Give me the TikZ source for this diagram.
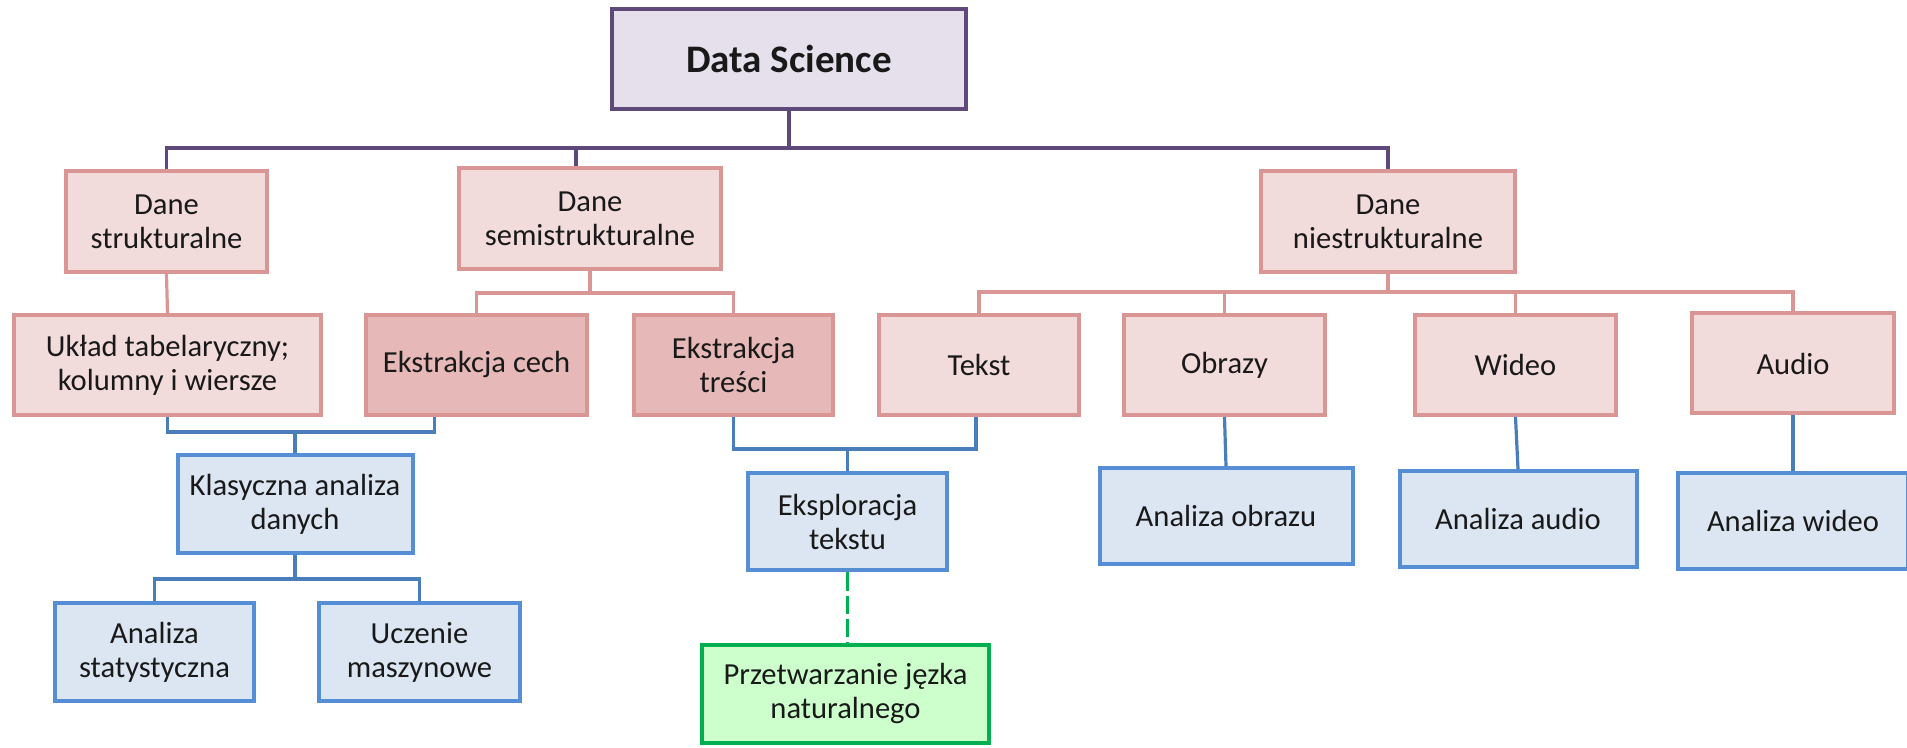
\documentclass[tikz,border=0pt]{standalone}
\usepackage{fontspec}
\setmainfont{Carlito}
\definecolor{purpleD}{HTML}{5F497A}
\definecolor{lav}{HTML}{E5E0EC}
\definecolor{pinkD}{HTML}{D99694}
\definecolor{pinkL}{HTML}{F2DCDB}
\definecolor{pinkM}{HTML}{E6B9B8}
\definecolor{blueB}{HTML}{558ED5}
\definecolor{blueC}{HTML}{4A7EBB}
\definecolor{blueL}{HTML}{DCE6F2}
\definecolor{greenD}{HTML}{00B050}
\definecolor{greenL}{HTML}{CCFFCC}
\tikzset{
  base/.style={rectangle, align=center, inner sep=0pt, line width=2pt,
    font=\fontsize{15.3}{17}\selectfont, text=black!90},
  dsbox/.style={base, draw=purpleD, fill=lav, font=\bfseries\fontsize{19.5}{22}\selectfont},
  pinkbox/.style={base, draw=pinkD, fill=pinkL},
  pinkdark/.style={base, draw=pinkD, fill=pinkM},
  bluebox/.style={base, draw=blueB, fill=blueL},
  greenbox/.style={base, draw=greenD, fill=greenL},
  pur/.style={draw=purpleD, line width=1.6pt},
  pnk/.style={draw=pinkD, line width=1.6pt},
  blu/.style={draw=blueC, line width=1.6pt},
  grn/.style={draw=greenD, line width=1.8pt, dash pattern=on 9pt off 2.5pt},
}
\begin{document}
\begin{tikzpicture}[x=0.5pt, y=-0.5pt]
\path[use as bounding box] (0,0) rectangle (1907,748);
% top
\node[dsbox, minimum width=177pt, minimum height=50pt] (ds) at (789,59) {Data Science};
% row 1
\node[pinkbox, minimum width=100.5pt, minimum height=50.5pt] (dst) at (166.5,221.5) {Dane\\strukturalne};
\node[pinkbox, minimum width=131pt, minimum height=50.5pt] (dss) at (590,218.5) {Dane\\semistrukturalne};
\node[pinkbox, minimum width=127pt, minimum height=50.5pt] (dns) at (1388,221.5) {Dane\\niestrukturalne};
% row 2
\node[pinkbox, minimum width=153.5pt, minimum height=50pt] (uklad) at (167.5,365) {Układ tabelaryczny;\\kolumny i wiersze};
\node[pinkdark, minimum width=110.5pt, minimum height=50pt] (ecech) at (476.5,365) {Ekstrakcja cech};
\node[pinkdark, minimum width=99.5pt, minimum height=50pt] (etresc) at (733.5,365) {Ekstrakcja\\treści};
\node[pinkbox, minimum width=100pt, minimum height=50pt] (tekst) at (979,365) {Tekst};
\node[pinkbox, minimum width=100.5pt, minimum height=50pt] (obrazy) at (1224.5,365) {Obrazy};
\node[pinkbox, minimum width=100.5pt, minimum height=50pt] (wideo) at (1515.5,365) {Wideo};
\node[pinkbox, minimum width=101pt, minimum height=50pt] (audio) at (1793,363.5) {Audio};
% row 3
\node[bluebox, minimum width=117.5pt, minimum height=49pt] (klas) at (295,504.5) {Klasyczna analiza\\danych};
\node[bluebox, minimum width=99.5pt, minimum height=48.5pt] (eksp) at (847.5,522) {Eksploracja\\tekstu};
\node[bluebox, minimum width=126.5pt, minimum height=48pt] (aobr) at (1226,516) {Analiza obrazu};
\node[bluebox, minimum width=118.5pt, minimum height=48pt] (aaud) at (1518,519) {Analiza audio};
\node[bluebox, minimum width=115pt, minimum height=48pt] (awid) at (1793,521) {Analiza wideo};
% row 4
\node[bluebox, minimum width=99.5pt, minimum height=49pt] (stat) at (154.5,652) {Analiza\\statystyczna};
\node[bluebox, minimum width=100.5pt, minimum height=49pt] (ucz) at (419.5,652) {Uczenie\\maszynowe};
\node[greenbox, minimum width=143.5pt, minimum height=49pt] (nlp) at (845.5,694) {Przetwarzanie jęzka\\naturalnego};
% junctions
\coordinate (j1) at (789,148);
\coordinate (j2) at (590,293);
\coordinate (j3) at (1388,292);
\coordinate (j4) at (295,432);
\coordinate (j5) at (295,579);
\coordinate (j6) at (847.5,449);
% purple connectors
\draw[pur] (ds.south) -- (j1) -| (dst.north);
\draw[pur] (j1) -| (dns.north);
\draw[pur] (j1 -| dss.north) ++(-14,0) -- ([xshift=-7pt]dss.north);
% pink connectors
\draw[pnk] (dst.south) -- (uklad.north);
\draw[pnk] (dss.south) -- (j2);
\draw[pnk] (ecech.north) |- (j2) -| (etresc.north);
\draw[pnk] (dns.south) -- (j3);
\draw[pnk] (tekst.north) |- (j3) -| (audio.north);
\draw[pnk] (obrazy.north) -- (obrazy.north |- j3);
\draw[pnk] (wideo.north) -- (wideo.north |- j3);
% blue connectors
\draw[blu] (uklad.south) |- (j4) -| ([xshift=-21pt]ecech.south);
\draw[blu] (j4) -- (klas.north);
\draw[blu] (klas.south) -- (j5);
\draw[blu] (stat.north) |- (j5) -| (ucz.north);
\draw[blu] (etresc.south) |- (j6) -| ([xshift=-1.5pt]tekst.south);
\draw[blu] (j6) -- (eksp.north);
\draw[blu] (obrazy.south) -- (aobr.north);
\draw[blu] (wideo.south) -- (aaud.north);
\draw[blu] (audio.south) -- (awid.north);
% green dashed
\draw[grn] (eksp.south) -- (eksp.south |- nlp.north);
\end{tikzpicture}
\end{document}
